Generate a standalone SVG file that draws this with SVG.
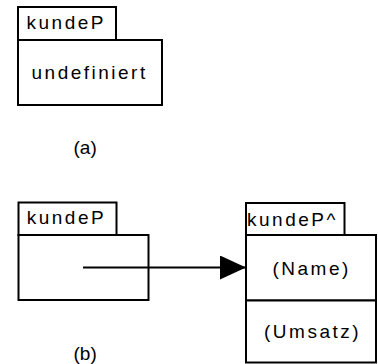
<svg xmlns="http://www.w3.org/2000/svg" width="378" height="364" viewBox="0 0 378 364">
<style>
.box{fill:#fff;stroke:#000;stroke-width:2}
.t{font-family:"Liberation Sans",Arial,sans-serif;font-size:19px;letter-spacing:2.5px;fill:#000}
.cap{font-family:"Liberation Sans",Arial,sans-serif;font-size:19px;fill:#000}
.conn{stroke:#000;stroke-width:2;fill:none}
</style>
<defs>
<marker id="arr" markerUnits="userSpaceOnUse" markerWidth="26" markerHeight="24" refX="26" refY="12" orient="auto">
<path d="M0,0 L26,12 L0,24 Z" fill="#000"/>
</marker>
</defs>
<rect width="378" height="364" fill="#fff"/>
<g id="nodeA">
<rect class="box" x="18" y="7" width="98" height="33"/>
<rect class="box" x="18" y="40" width="144" height="65"/>
<text class="t" x="26.5" y="29">kundeP</text>
<text class="t" x="31.5" y="79">undefiniert</text>
</g>
<text class="cap" x="73.5" y="154">(a)</text>
<g id="nodeB">
<rect class="box" x="18.5" y="202.5" width="98" height="32.5"/>
<rect class="box" x="18.5" y="235" width="130" height="65"/>
<text class="t" x="26.7" y="223.5">kundeP</text>
</g>
<g id="nodeC">
<rect class="box" x="246" y="203" width="98.5" height="32"/>
<rect class="box" x="246" y="235" width="130" height="65.5"/>
<rect class="box" x="246" y="300.5" width="130" height="62"/>
<text class="t" x="247" y="226">kundeP^</text>
<text class="t" x="272.5" y="275">(Name)</text>
<text class="t" x="264" y="338">(Umsatz)</text>
</g>
<text class="cap" x="73.5" y="360">(b)</text>
<g id="connectors">
<line class="conn" x1="83" y1="267.5" x2="246" y2="267.5" marker-end="url(#arr)"/>
</g>
</svg>
